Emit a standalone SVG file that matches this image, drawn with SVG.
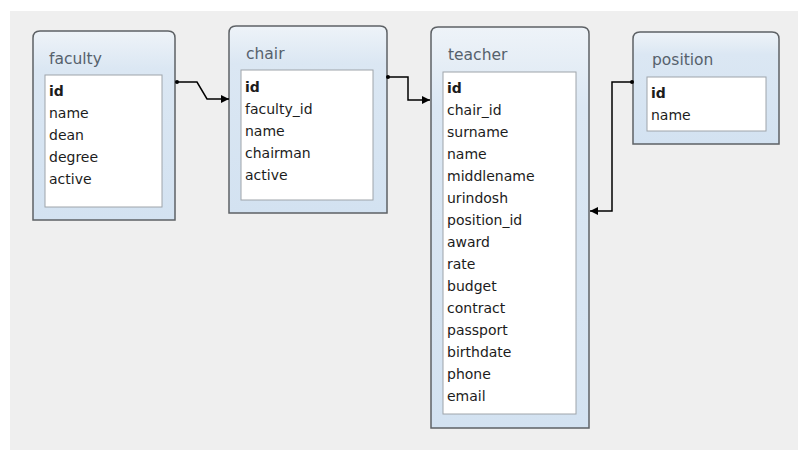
<svg xmlns="http://www.w3.org/2000/svg" width="798" height="450" viewBox="0 0 798 450">
  <defs>
    <linearGradient id="tableFill" x1="0" y1="0" x2="0" y2="1">
      <stop offset="0" stop-color="#eef3f8"/>
      <stop offset="0.2" stop-color="#dbe7f3"/>
      <stop offset="1" stop-color="#d3e2f1"/>
    </linearGradient>
    <marker id="arrow" viewBox="0 0 10 10" refX="10" refY="5" markerWidth="8" markerHeight="8" markerUnits="userSpaceOnUse" orient="auto">
      <path d="M0,0 L10,5 L0,10 Z" fill="#000"/>
    </marker>
    <marker id="dot" viewBox="0 0 6 6" refX="3" refY="3" markerWidth="4" markerHeight="4" markerUnits="userSpaceOnUse">
      <circle cx="3" cy="3" r="3" fill="#000"/>
    </marker>
  </defs>
  <style>
    .frame { fill: url(#tableFill); stroke: #5e6266; stroke-width: 1.5; }
    .list { fill: #ffffff; stroke: #9ea4aa; stroke-width: 1; }
    .title { font-family: "DejaVu Sans", "Liberation Sans", sans-serif; font-size: 15.5px; fill: #56616c; }
    .col { font-family: "DejaVu Sans", "Liberation Sans", sans-serif; font-size: 14px; fill: #1c1c1c; }
    .key { font-weight: bold; }
    .link { fill: none; stroke: #000; stroke-width: 1.5; marker-start: url(#dot); marker-end: url(#arrow); }
  </style>

  <!-- canvas -->
  <rect x="0" y="0" width="798" height="450" fill="#ffffff"/>
  <rect x="10" y="11" width="788" height="439" fill="#efefef"/>

  <!-- table: faculty -->
  <g id="faculty">
    <path class="frame" d="M33,220 V38 Q33,31 40,31 H168 Q175,31 175,38 V220 Z"/>
    <rect class="list" x="45" y="75" width="117" height="132"/>
    <text class="title" x="49" y="64">faculty</text>
    <text class="col key" x="49" y="96">id</text>
    <text class="col" x="49" y="118">name</text>
    <text class="col" x="49" y="140">dean</text>
    <text class="col" x="49" y="162">degree</text>
    <text class="col" x="49" y="184">active</text>
  </g>

  <!-- table: chair -->
  <g id="chair">
    <path class="frame" d="M229,213 V33 Q229,26 236,26 H380 Q387,26 387,33 V213 Z"/>
    <rect class="list" x="241" y="70" width="132" height="130"/>
    <text class="title" x="246" y="59">chair</text>
    <text class="col key" x="245" y="92">id</text>
    <text class="col" x="245" y="114">faculty_id</text>
    <text class="col" x="245" y="136">name</text>
    <text class="col" x="245" y="158">chairman</text>
    <text class="col" x="245" y="180">active</text>
  </g>

  <!-- table: teacher -->
  <g id="teacher">
    <path class="frame" d="M431,428 V34 Q431,27 438,27 H582 Q589,27 589,34 V428 Z"/>
    <rect class="list" x="443" y="72" width="133" height="342"/>
    <text class="title" x="448" y="60">teacher</text>
    <text class="col key" x="447" y="93">id</text>
    <text class="col" x="447" y="115">chair_id</text>
    <text class="col" x="447" y="137">surname</text>
    <text class="col" x="447" y="159">name</text>
    <text class="col" x="447" y="181">middlename</text>
    <text class="col" x="447" y="203">urindosh</text>
    <text class="col" x="447" y="225">position_id</text>
    <text class="col" x="447" y="247">award</text>
    <text class="col" x="447" y="269">rate</text>
    <text class="col" x="447" y="291">budget</text>
    <text class="col" x="447" y="313">contract</text>
    <text class="col" x="447" y="335">passport</text>
    <text class="col" x="447" y="357">birthdate</text>
    <text class="col" x="447" y="379">phone</text>
    <text class="col" x="447" y="401">email</text>
  </g>

  <!-- table: position -->
  <g id="position">
    <path class="frame" d="M633,144 V39 Q633,32 640,32 H772 Q779,32 779,39 V144 Z"/>
    <rect class="list" x="647" y="77" width="119" height="54"/>
    <text class="title" x="652" y="65">position</text>
    <text class="col key" x="651" y="98">id</text>
    <text class="col" x="651" y="120">name</text>
  </g>

  <!-- relationships -->
  <g id="connectors">
    <path class="link" d="M177,82 H197 L207,99 H229"/>
    <path class="link" d="M388,77 H408 V100 H430"/>
    <path class="link" d="M632,82 H612 V211 H590"/>
  </g>
</svg>
